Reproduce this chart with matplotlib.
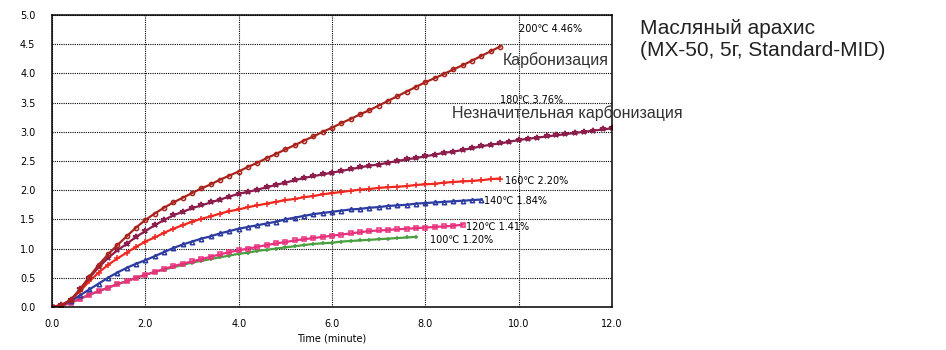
import numpy as np
import matplotlib.pyplot as plt

# sampling every 0.2 minute
t = np.round(np.arange(0, 12.01, 0.2), 1)

y200 = [0.0, 0.03, 0.12, 0.30, 0.52, 0.72, 0.90, 1.06, 1.21, 1.36,
        1.49, 1.60, 1.70, 1.79, 1.87, 1.95, 2.03, 2.10, 2.18, 2.25,
        2.32, 2.40, 2.47, 2.55, 2.62, 2.70, 2.77, 2.85, 2.92, 3.00,
        3.07, 3.15, 3.22, 3.30, 3.37, 3.45, 3.53, 3.61, 3.69, 3.77,
        3.85, 3.92, 3.99, 4.07, 4.14, 4.22, 4.30, 4.38, 4.46]
y180 = [0.0, 0.03, 0.12, 0.30, 0.50, 0.68, 0.84, 0.97, 1.08, 1.20,
        1.30, 1.40, 1.49, 1.57, 1.63, 1.69, 1.74, 1.79, 1.84, 1.89,
        1.94, 1.97, 2.01, 2.05, 2.09, 2.13, 2.17, 2.21, 2.24, 2.27,
        2.30, 2.33, 2.36, 2.39, 2.42, 2.44, 2.47, 2.50, 2.53, 2.55,
        2.58, 2.61, 2.64, 2.66, 2.69, 2.72, 2.75, 2.78, 2.80, 2.83,
        2.86, 2.88, 2.90, 2.92, 2.94, 2.96, 2.98, 3.00, 3.02, 3.04,
        3.06]
y160 = [0.0, 0.03, 0.12, 0.27, 0.44, 0.59, 0.72, 0.83, 0.93, 1.03,
        1.12, 1.19, 1.27, 1.34, 1.40, 1.46, 1.51, 1.55, 1.60, 1.64,
        1.67, 1.71, 1.74, 1.77, 1.80, 1.83, 1.85, 1.88, 1.90, 1.93,
        1.95, 1.97, 1.99, 2.01, 2.02, 2.04, 2.05, 2.06, 2.07, 2.09,
        2.10, 2.11, 2.13, 2.14, 2.15, 2.16, 2.17, 2.19, 2.20]
y140 = [0.0, 0.03, 0.10, 0.20, 0.30, 0.40, 0.50, 0.59, 0.67, 0.74,
        0.80, 0.87, 0.94, 1.01, 1.07, 1.12, 1.17, 1.21, 1.26, 1.30,
        1.34, 1.37, 1.40, 1.43, 1.46, 1.50, 1.53, 1.56, 1.59, 1.61,
        1.63, 1.65, 1.67, 1.68, 1.70, 1.71, 1.73, 1.74, 1.75, 1.77,
        1.78, 1.79, 1.80, 1.81, 1.82, 1.83, 1.84]
y120 = [0.0, 0.02, 0.07, 0.14, 0.21, 0.27, 0.33, 0.39, 0.44, 0.50,
        0.55, 0.60, 0.65, 0.70, 0.74, 0.78, 0.82, 0.86, 0.90, 0.94,
        0.97, 1.00, 1.03, 1.06, 1.09, 1.11, 1.14, 1.16, 1.18, 1.20,
        1.22, 1.24, 1.26, 1.28, 1.30, 1.31, 1.32, 1.33, 1.34, 1.35,
        1.36, 1.37, 1.38, 1.39, 1.41]
y100 = [0.0, 0.02, 0.07, 0.14, 0.21, 0.27, 0.33, 0.39, 0.44, 0.50,
        0.55, 0.60, 0.64, 0.68, 0.72, 0.76, 0.79, 0.82, 0.85, 0.88,
        0.91, 0.93, 0.96, 0.98, 1.00, 1.02, 1.04, 1.06, 1.08, 1.09,
        1.10, 1.12, 1.13, 1.14, 1.15, 1.16, 1.17, 1.18, 1.19, 1.20]

labels = ['200℃ 4.46%', '180℃ 3.76%', '160℃ 2.20%',
          '140℃ 1.84%', '120℃ 1.41%', '100℃ 1.20%']
label_xy = [(10.0, 4.76), (9.6, 3.54), (9.7, 2.16),
            (9.25, 1.81), (8.87, 1.37), (8.1, 1.15)]

fig = plt.figure(figsize=(9.46, 3.5), dpi=100)
ax = fig.add_axes([0.055, 0.123, 0.592, 0.834])

series = [
    (y100, '#4aa040', '+', 3.5),
    (y120, '#e8307c', 's', 3.0),
    (y140, '#2c3ca0', '^', 3.2),
    (y160, '#f02820', '+', 4.0),
    (y180, '#8c1c4c', '*', 4.0),
    (y200, '#a8241c', 'o', 3.0),
]
for y, col, mk, ms in series:
    ax.plot(t[:len(y)], y, color=col, lw=1.6, marker=mk, ms=ms,
            markeredgewidth=1.1, markeredgecolor=col,
            markerfacecolor='none')

for txt, (x, y) in zip(labels, label_xy):
    ax.text(x, y, txt, fontsize=7, va='center', ha='left')

ax.text(9.66, 4.23, 'Карбонизация', fontsize=11.5, color='#333333',
        family='Liberation Sans', va='center')
ax.text(8.57, 3.32, 'Незначительная карбонизация', fontsize=11.5,
        color='#333333', family='Liberation Sans', va='center',
        clip_on=False)

fig.text(0.677, 0.945, 'Масляный арахис\n(MX-50, 5г, Standard-MID)',
         fontsize=15, color='#222222', family='Liberation Sans',
         va='top', ha='left', linespacing=1.15)

ax.set_xlim(0, 12)
ax.set_ylim(0, 5)
ax.set_xticks(np.arange(0, 12.1, 2))
ax.set_yticks(np.arange(0, 5.01, 0.5))
ax.set_xticklabels(['%.1f' % v for v in np.arange(0, 12.1, 2)])
ax.set_yticklabels(['%.1f' % v for v in np.arange(0, 5.01, 0.5)])
ax.tick_params(length=0, labelsize=7)
ax.tick_params(axis='x', pad=9)
ax.tick_params(axis='y', pad=12)
ax.grid(True, color='black', linestyle=(0, (1, 1)), lw=0.8)
for s in ax.spines.values():
    s.set_linewidth(1.1)
ax.set_xlabel('Time (minute)', fontsize=7, labelpad=3)

fig.savefig('out.png', dpi=100)
